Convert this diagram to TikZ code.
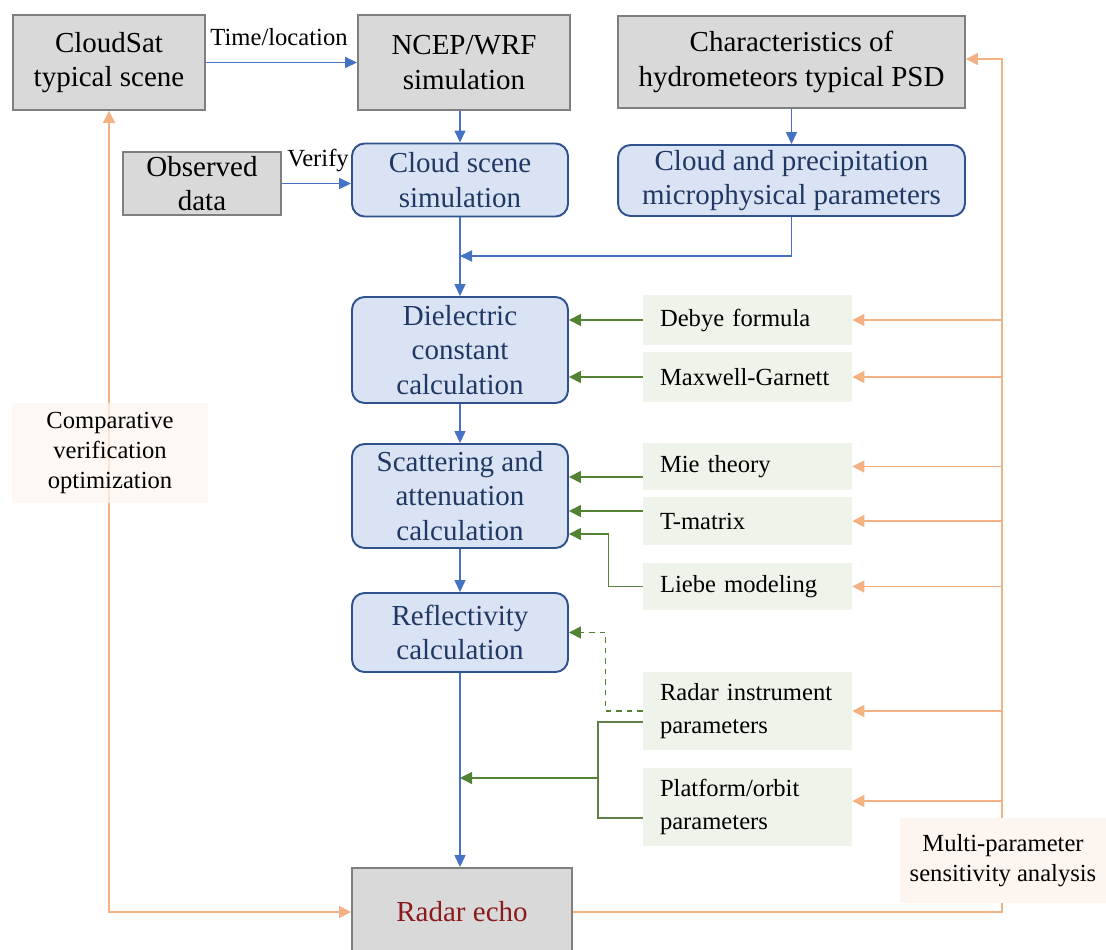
\documentclass[tikz,border=0pt]{standalone}
\usepackage{fontspec}
\setmainfont{Liberation Serif}
\usetikzlibrary{arrows.meta, positioning}

\definecolor{boxgray}{HTML}{D9D9D9}
\definecolor{edgegray}{HTML}{7F7F7F}
\definecolor{procfill}{HTML}{DAE3F3}
\definecolor{procedge}{HTML}{2F528F}
\definecolor{proctext}{HTML}{1F3864}
\definecolor{flowblue}{HTML}{4472C4}
\definecolor{flowgreen}{HTML}{548235}
\definecolor{parfill}{HTML}{EFF4EA}
\definecolor{feedorange}{HTML}{F4B183}
\definecolor{notefill}{HTML}{FDF6F0}
\definecolor{echored}{HTML}{8B1A1A}

\begin{document}
\begin{tikzpicture}[
  x=0.02cm, y=-0.02cm,
  bigfont/.style={font=\fontsize{16.5}{19.5}\selectfont},
  smallfont/.style={font=\fontsize{14}{17}\selectfont},
  source/.style={bigfont, draw=edgegray, line width=1.1pt, fill=boxgray, align=center, inner sep=2pt},
  proc/.style={bigfont, draw=procedge, line width=1.1pt, fill=procfill, text=proctext,
    rounded corners=0.25cm, align=center, minimum width=4.32cm, inner sep=2pt},
  par/.style={font=\fontsize{14}{19}\selectfont, fill=parfill, text width=3.5cm,
    inner xsep=0.34cm, inner ysep=0pt, align=left},
  note/.style={smallfont, fill=notefill, align=center},
  barrow/.style={draw=flowblue, line width=0.8pt, -{Triangle[length=0.24cm,width=0.22cm]}},
  garrow/.style={draw=flowgreen, line width=0.8pt, -{Triangle[length=0.24cm,width=0.24cm]}},
  gline/.style={draw=flowgreen!75!gray, line width=0.7pt},
  oline/.style={draw=feedorange, line width=0.8pt},
  oarrow/.style={oline, -{Triangle[length=0.24cm,width=0.24cm]}}
]
\useasboundingbox (0,0) rectangle (1106,950);

% Input data and models (top row)
\node[source, minimum width=3.84cm, minimum height=1.9cm] (cloudsat) at (109,62.5) {CloudSat\\typical scene};
\node[source, minimum width=4.24cm, minimum height=1.9cm] (ncep) at (464,62.5) {NCEP/WRF\\simulation};
\node[source, minimum width=6.94cm, minimum height=1.84cm] (psd) at (791.5,62) {Characteristics of\\hydrometeors typical PSD};
\node[source, minimum width=3.16cm, minimum height=1.26cm] (observed) at (202,183.5) {Observed\\data};

% Processing chain
\node[proc, minimum height=1.46cm] (scene) at (460,180) {Cloud scene\\simulation};
\node[proc, minimum width=6.94cm, minimum height=1.42cm] (micro) at (791.5,180.5) {Cloud and precipitation\\microphysical parameters};
\node[proc, minimum height=2.12cm] (dielec) at (460,350) {Dielectric\\constant\\calculation};
\node[proc, minimum height=2.08cm] (scatter) at (460,496) {Scattering and\\attenuation\\calculation};
\node[proc, minimum height=1.58cm] (reflect) at (460,632.5) {Reflectivity\\calculation};
\node[source, text=echored, minimum width=4.4cm, minimum height=1.76cm] (echo) at (462,912) {Radar echo};

% Models and parameters (right column)
\foreach \pname/\ypos/\hgt/\txt in {
  debye/320/1.0/Debye formula, maxwell/377/1.0/Maxwell-Garnett,
  mie/466.5/0.94/Mie theory, tmat/521/0.96/T-matrix, liebe/586.5/0.94/Liebe modeling,
  radar/711/1.56/{Radar instrument\\parameters}, platform/807/1.56/{Platform/orbit\\parameters}}{
  \node[par, minimum height=\hgt cm] (\pname) at (747.5,\ypos) {\txt};
}

% Blue flow
\node[smallfont] (timelbl) at (279,37) {Time/location};
\node[smallfont] (verifylbl) at (318,160) {Verify};
\draw[barrow] (cloudsat) -- (ncep);
\draw[barrow] (ncep.south -| scene.north) -- (scene.north);
\draw[barrow] (observed.east) -- (observed.east -| scene.west);
\draw[barrow] (psd) -- (micro);
\coordinate (merge) at (460,256);
\draw[barrow] (micro.south) |- (merge);
\draw[barrow] (scene) -- (dielec);
\draw[barrow] (dielec) -- (scatter);
\draw[barrow] (scatter) -- (reflect);
\draw[barrow] (reflect.south) -- (reflect.south |- echo.north);

% Green inputs
\draw[garrow] (debye.west) -- (debye.west -| dielec.east);
\draw[garrow] (maxwell.west) -- (maxwell.west -| dielec.east);
\draw[garrow] ([yshift=-0.21cm]mie.west) -- ([yshift=-0.21cm]mie.west -| scatter.east);
\draw[garrow] ([yshift=0.2cm]tmat.west) -- ([yshift=0.2cm]tmat.west -| scatter.east);
\draw[gline] (liebe.west) -- ++(-34,0) coordinate (liebebend);
\draw[garrow] (liebebend) |- ([yshift=-0.76cm]scatter.east);
\draw[garrow, dashed] (radar.west) -- ++(-37,0) |- (reflect.east);
\coordinate (bracket) at (598,778);
\draw[gline] ([yshift=-0.22cm]radar.west) -| (bracket) |- ([yshift=-0.22cm]platform.west);
\draw[garrow] (bracket) -- (bracket -| reflect.south);

% Orange feedback
\coordinate (spinetop) at (1002,59);
\draw[oarrow] (echo.east) -- (echo.east -| spinetop) -- (spinetop) -- (spinetop -| psd.east);
\foreach \pname in {debye,maxwell,mie,tmat,liebe,radar}
  \draw[oarrow] (\pname.east -| spinetop) -- (\pname.east);
\draw[oarrow] ([yshift=0.12cm]platform.east -| spinetop) -- ([yshift=0.12cm]platform.east);
\draw[oline, {Triangle[length=0.24cm,width=0.24cm]}-{Triangle[length=0.24cm,width=0.24cm]}]
  (cloudsat.south) |- (echo.west);

% Labels on the feedback lines
\node[note, fill opacity=0.75, text opacity=1, minimum width=3.92cm, minimum height=2.0cm] (compare) at (110,453) {Comparative\\verification\\optimization};
\node[note, minimum width=4.12cm, minimum height=1.7cm] (multi) at (1003,860.5) {Multi-parameter\\sensitivity analysis};
\end{tikzpicture}
\end{document}
